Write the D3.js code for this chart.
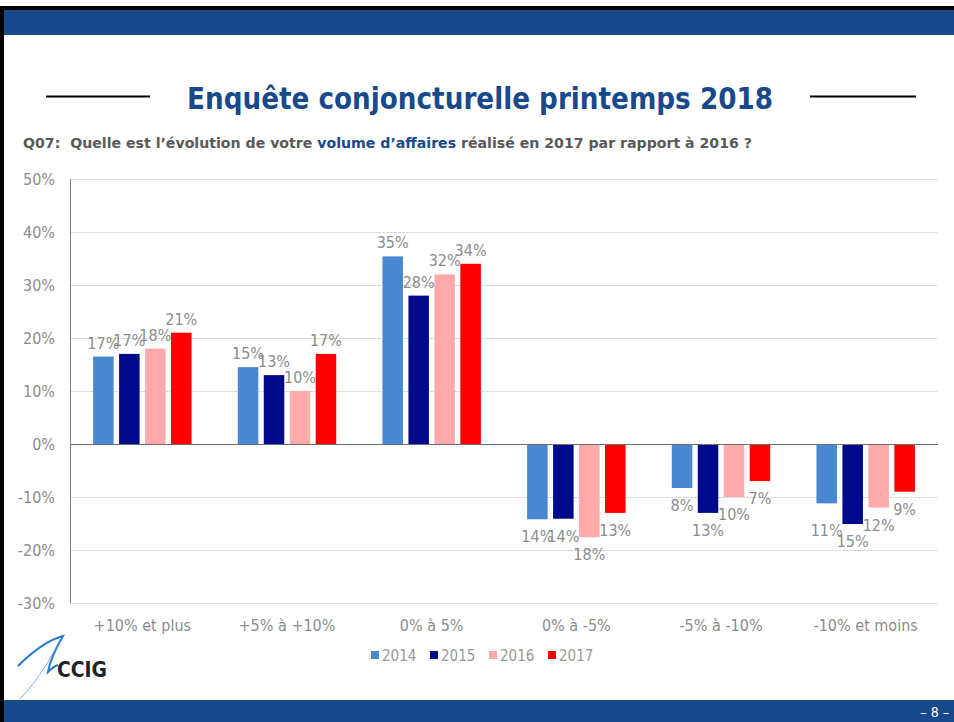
<!DOCTYPE html>
<html>
<head>
<meta charset="utf-8">
<script src="https://cdn.jsdelivr.net/npm/d3@7"></script>
<style>
  body { margin: 0; background: #fff; }
  svg text { font-family: "DejaVu Sans Condensed", "DejaVu Sans", sans-serif; font-stretch: condensed; }
</style>
</head>
<body>
<div class="content"></div>
<script>
var width = 954
var height = 722

// chart data
var categories = ['+10% et plus', '+5% à +10%', '0% à 5%', '0% à -5%', '-5% à -10%', '-10% et moins']
var years = ['2014', '2015', '2016', '2017']
var v2014 = [16.5, 14.5, 35.4, -14.2, -8.3, -11.2]
var v2015 = [17, 13, 28, -14.1, -13, -15.1]
var v2016 = [18, 10, 32, -17.6, -10, -12]
var v2017 = [21, 17, 34, -13, -7, -9]
var yTicks = [50, 40, 30, 20, 10, 0, -10, -20, -30]

var series = [v2014, v2015, v2016, v2017]
var colors = ['#4a87d1', '#000b8c', '#ffaaaa', '#ff0000']
var blue = '#18498b'

var svg = d3.select('.content').append('svg')
    .attr('width', width)
    .attr('height', height)

// slide frame
svg.append('rect').attr('x', 0).attr('y', 6).attr('width', width).attr('height', 4).attr('fill', '#000')
svg.append('rect').attr('x', 0).attr('y', 10).attr('width', width).attr('height', 25).attr('fill', blue)
svg.append('rect').attr('x', 0).attr('y', 700).attr('width', width).attr('height', 22).attr('fill', blue)
svg.append('rect').attr('x', 0).attr('y', 6).attr('width', 4).attr('height', 716).attr('fill', '#000')

svg.append('text')
    .attr('x', 949).attr('y', 717)
    .attr('text-anchor', 'end')
    .attr('fill', '#fff')
    .style('font-size', '14px')
    .text('– 8 –')

// title
svg.append('line').attr('x1', 46).attr('x2', 150).attr('y1', 96.5).attr('y2', 96.5).attr('stroke', '#000').attr('stroke-width', 2)
svg.append('line').attr('x1', 810).attr('x2', 916).attr('y1', 96.5).attr('y2', 96.5).attr('stroke', '#000').attr('stroke-width', 2)
svg.append('text')
    .attr('x', 187).attr('y', 109)
    .attr('textLength', 586)
    .attr('lengthAdjust', 'spacingAndGlyphs')
    .attr('fill', blue)
    .style('font-size', '31px')
    .style('font-weight', 'bold')
    .text('Enquête conjoncturelle printemps 2018')

var sub = svg.append('text')
    .attr('x', 23).attr('y', 148)
    .attr('textLength', 729)
    .attr('lengthAdjust', 'spacingAndGlyphs')
    .attr('fill', '#595959')
    .style('font-size', '14px')
    .style('font-weight', 'bold')
    .attr('xml:space', 'preserve')
sub.append('tspan').text('Q07:  Quelle est l’évolution de votre ')
sub.append('tspan').attr('fill', blue).text('volume d’affaires')
sub.append('tspan').text(' réalisé en 2017 par rapport à 2016 ?')

// scales
var x0 = d3.scaleBand()
    .domain(categories)
    .range([70, 938])

var x1 = d3.scaleBand()
    .domain(years)
    .range([0, x0.bandwidth()])
    .paddingInner(0.21)
    .paddingOuter(0.89)

var y = d3.scaleLinear()
    .domain([-30, 50])
    .range([603, 179])

// gridlines + y labels
var yAxis = svg.append('g')
    .attr('class', 'y axis')
    .attr('transform', 'translate(70,0)')
    .call(d3.axisLeft(y)
        .tickValues(yTicks)
        .tickSizeInner(-(938 - 70))
        .tickSizeOuter(0)
        .tickPadding(15)
        .tickFormat(function(d) { return d + '%' }))
yAxis.select('.domain').remove()
yAxis.selectAll('.tick line')
    .attr('stroke', '#d4d4d4')
    .attr('stroke-dasharray', '3,1')
yAxis.selectAll('.tick text')
    .attr('fill', '#8c8c8c')
    .style('font-size', '16px')

svg.append('line')
    .attr('x1', 70.5).attr('x2', 70.5)
    .attr('y1', y(50)).attr('y2', y(-30))
    .attr('stroke', '#7f7f7f')

// bars
var groups = svg.append('g')
    .attr('class', 'bars')
    .selectAll('g')
    .data(categories)
    .enter().append('g')
    .attr('transform', function(d) { return 'translate(' + x0(d) + ',0)' })

var cells = groups.selectAll('g')
    .data(function(c, i) {
        return years.map(function(yr, j) { return { year: yr, value: series[j][i], color: colors[j], cat: i } })
    })
    .enter().append('g')

cells.append('rect')
    .attr('x', function(d) { return x1(d.year) })
    .attr('width', x1.bandwidth())
    .attr('y', function(d) { return y(Math.max(0, d.value)) })
    .attr('height', function(d) { return Math.abs(y(d.value) - y(0)) })
    .attr('fill', function(d) { return d.color })

cells.append('text')
    .attr('x', function(d) { return x1(d.year) + x1.bandwidth() / 2 })
    .attr('y', function(d) {
        if (d.value >= 0) return y(d.value) - 8
        // the 11% label was dragged lower on the slide
        return y(d.value) + (d.cat === 5 && d.year === '2014' ? 33 : 23)
    })
    .attr('text-anchor', 'middle')
    .attr('fill', '#8c8c8c')
    .style('font-size', '16px')
    .text(function(d) { return Math.round(Math.abs(d.value)) + '%' })

// zero line
svg.append('line')
    .attr('x1', 70).attr('x2', 938)
    .attr('y1', y(0) + 0.5).attr('y2', y(0) + 0.5)
    .attr('stroke', '#6e6e6e')

// category labels
svg.append('g')
    .selectAll('text')
    .data(categories)
    .enter().append('text')
    .attr('x', function(d) { return x0(d) + x0.bandwidth() / 2 })
    .attr('y', 631)
    .attr('text-anchor', 'middle')
    .attr('fill', '#8c8c8c')
    .style('font-size', '16px')
    .text(function(d) { return d })

// legend
var legend = svg.append('g')
    .selectAll('g')
    .data(years)
    .enter().append('g')
    .attr('transform', function(d, i) { return 'translate(' + (371 + i * 59) + ',0)' })
legend.append('rect')
    .attr('x', 0).attr('y', 651)
    .attr('width', 8).attr('height', 8)
    .attr('fill', function(d, i) { return colors[i] })
legend.append('text')
    .attr('x', 11).attr('y', 661)
    .attr('fill', '#999')
    .style('font-size', '15px')
    .text(function(d) { return d })

// CCIG logo
var logo = svg.append('g').attr('class', 'logo')
logo.append('path')
    .attr('d', 'M18,666 C32,652 48,640 63,636 C56,648 50,660 48,672 C52,668 55,666 58,665')
    .attr('fill', 'none')
    .attr('stroke', '#2b7bd0')
    .attr('stroke-width', 2)
logo.append('path')
    .attr('d', 'M60,640 C50,660 38,680 20,699')
    .attr('fill', 'none')
    .attr('stroke', '#5a9ae0')
    .attr('stroke-width', 0.8)
logo.append('text')
    .attr('x', 57).attr('y', 677)
    .attr('textLength', 50)
    .attr('lengthAdjust', 'spacingAndGlyphs')
    .attr('fill', '#222')
    .style('font-size', '21px')
    .style('font-weight', 'bold')
    .text('CCIG')
</script>
</body>
</html>
